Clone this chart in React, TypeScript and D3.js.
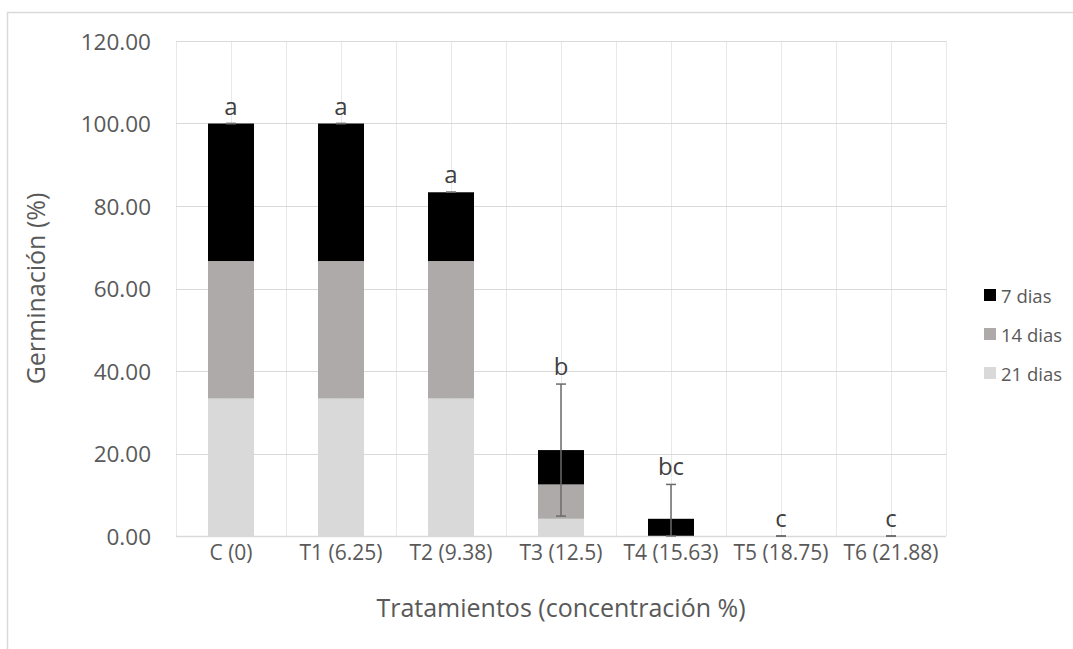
import React from "react";
import * as d3 from "d3";

const categories = ["C (0)", "T1 (6.25)", "T2 (9.38)", "T3 (12.5)", "T4 (15.63)", "T5 (18.75)", "T6 (21.88)"];
const dias21 = [33.33, 33.33, 33.33, 4.17, 0, 0, 0];
const dias14 = [33.33, 33.33, 33.33, 8.33, 0, 0, 0];
const dias7 = [33.33, 33.33, 16.67, 8.33, 4.17, 0, 0];
const errors = [0, 0, 0, 16.0, 8.33, 0, 0];
const letters = ["a", "a", "a", "b", "bc", "c", "c"];
const yTicks = [0, 20, 40, 60, 80, 100, 120];
const seriesNames = ["7 dias", "14 dias", "21 dias"];

const FONT = "'Open Sans', 'DejaVu Sans', sans-serif";
const TEXT = "#595959";
const GRID = "#D9D9D9";

export default function App() {
  const W = 1073, H = 649;
  const left = 176, right = 946, top = 41, bottom = 536;
  const x = d3.scaleBand<string>().domain(categories).range([left, right]).paddingInner(0).paddingOuter(0);
  const y = d3.scaleLinear().domain([0, 120]).range([bottom, top]);
  const barW = 46;

  const rows = categories.map((c, i) => ({ cat: c, d21: dias21[i], d14: dias14[i], d7: dias7[i] }));
  const stack = d3.stack<any>().keys(["d21", "d14", "d7"])(rows);
  const colors: Record<string, string> = { d21: "#D9D9D9", d14: "#AEAAAA", d7: "#000000" };
  const legendColors = ["#000000", "#AEAAAA", "#D9D9D9"];

  const bw = x.bandwidth();
  const vLines = d3.range(0, categories.length * 2 + 1).map((k) => left + (k * bw) / 2);

  return (
    <svg width={W} height={H} style={{ position: "absolute", left: 0, top: 0, background: "#fff" }} fontFamily={FONT}>
      <rect x={0} y={0} width={W} height={H} fill="#fff" />
      <rect x={7.5} y={12.5} width={W + 20} height={H + 20} fill="none" stroke={GRID} strokeWidth={1.5} />
      {yTicks.map((t) => (
        <line key={"h" + t} x1={left} x2={right} y1={Math.round(y(t)) + 0.5} y2={Math.round(y(t)) + 0.5} stroke={GRID} strokeWidth={1.2} />
      ))}
      {vLines.map((vx, k) => (
        <line key={"v" + k} x1={Math.round(vx) + 0.5} x2={Math.round(vx) + 0.5} y1={top} y2={bottom} stroke={GRID} strokeWidth={1} opacity={0.6} />
      ))}
      {stack.map((s) => (
        <g key={s.key} fill={colors[s.key]}>
          {s.map((d, i) => {
            const h = y(d[0]) - y(d[1]);
            if (h <= 0) return null;
            const cx = (x(categories[i]) as number) + bw / 2;
            return <rect key={i} x={cx - barW / 2} y={y(d[1])} width={barW} height={h} />;
          })}
        </g>
      ))}
      <line x1={left} x2={right} y1={bottom + 0.5} y2={bottom + 0.5} stroke={GRID} strokeWidth={1.5} />
      {categories.map((c, i) => {
        const total = dias21[i] + dias14[i] + dias7[i];
        const cx = (x(c) as number) + bw / 2;
        const yt = y(total + errors[i]);
        const yb = y(Math.max(0, total - errors[i]));
        return (
          <g key={"e" + i} stroke="#6b6b6b" strokeWidth={1.5}>
            <line x1={cx} x2={cx} y1={yt} y2={yb} />
            <line x1={cx - 5} x2={cx + 5} y1={yt} y2={yt} />
            <line x1={cx - 5} x2={cx + 5} y1={yb} y2={yb} />
          </g>
        );
      })}
      {categories.map((c, i) => {
        const total = dias21[i] + dias14[i] + dias7[i];
        const cx = (x(c) as number) + bw / 2;
        const yt = y(total + errors[i]);
        return (
          <text key={"l" + i} x={cx} y={yt - 9} textAnchor="middle" fontSize={24} fill="#404040">
            {letters[i]}
          </text>
        );
      })}
      {yTicks.map((t) => (
        <text key={"yt" + t} x={151} y={y(t)} textAnchor="end" dominantBaseline="central" fontSize={22.5} fill={TEXT}>
          {t.toFixed(2)}
        </text>
      ))}
      {categories.map((c) => (
        <text key={"xt" + c} x={(x(c) as number) + bw / 2} y={552} textAnchor="middle" dominantBaseline="central" fontSize={21} fill={TEXT}>
          {c}
        </text>
      ))}
      <text x={(left + right) / 2} y={607} textAnchor="middle" dominantBaseline="central" fontSize={25} fill={TEXT}>
        Tratamientos (concentración %)
      </text>
      <text transform={`translate(35,${(top + bottom) / 2}) rotate(-90)`} textAnchor="middle" dominantBaseline="central" fontSize={25} fill={TEXT}>
        Germinación (%)
      </text>
      {seriesNames.map((n, i) => (
        <g key={"lg" + i} transform={`translate(984,${289 + i * 39})`}>
          <rect x={0} y={0} width={12} height={12} fill={legendColors[i]} />
          <text x={17} y={6.5} dominantBaseline="central" fontSize={18.5} fill={TEXT}>
            {n}
          </text>
        </g>
      ))}
    </svg>
  );
}
